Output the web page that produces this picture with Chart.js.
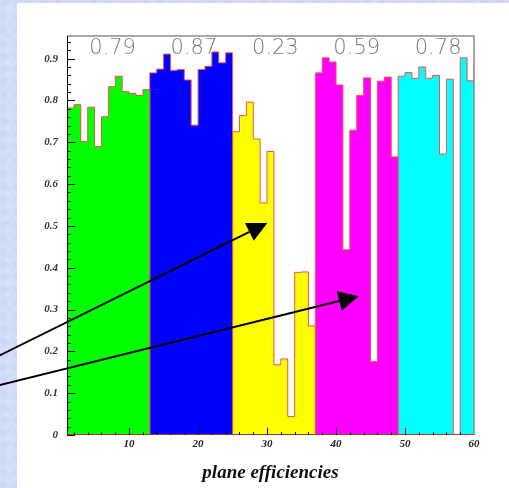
<!DOCTYPE html>
<html>
<head>
<meta charset="utf-8">
<script src="https://cdn.jsdelivr.net/npm/chart.js@4.4.1/dist/chart.umd.min.js"></script>
<style>
html,body{margin:0;padding:0;width:509px;height:488px;overflow:hidden;}
body{background:#d2def7;
 background-image:
  radial-gradient(circle at 30% 30%, rgba(196,210,244,0.7) 0, transparent 6px),
  radial-gradient(circle at 70% 70%, rgba(222,230,250,0.7) 0, transparent 5px),
  radial-gradient(circle at 50% 10%, rgba(205,205,245,0.5) 0, transparent 4px);
 background-size:13px 13px, 11px 11px, 17px 17px;}
#panel{position:absolute;left:17px;top:3px;width:492px;height:485px;background:#ffffff;}
#wrap{position:absolute;left:0;top:0;width:509px;height:488px;}
</style>
</head>
<body>
<div id="panel"></div>
<div id="wrap"><canvas id="c" width="509" height="488"></canvas></div>
<script>
// ---- data ----
const planeEff = [
  0.782, 0.790, 0.702, 0.784, 0.690, 0.761, 0.833, 0.858, 0.821, 0.817, 0.812, 0.826,
  0.866, 0.875, 0.911, 0.872, 0.874, 0.849, 0.741, 0.874, 0.882, 0.916, 0.890, 0.914,
  0.725, 0.764, 0.796, 0.708, 0.555, 0.678, 0.168, 0.182, 0.044, 0.389, 0.390, 0.261,
  0.866, 0.902, 0.892, 0.837, 0.443, 0.729, 0.812, 0.854, 0.176, 0.846, 0.856, 0.665,
  0.858, 0.867, 0.853, 0.880, 0.853, 0.860, 0.672, 0.851, 0.000, 0.902, 0.847, 0.884
];
const groupFirstBin = [1, 13, 25, 37, 49];
const groupBinCount = [12, 12, 12, 12, 12];
const groupLabels = ['0.79', '0.87', '0.23', '0.59', '0.78'];
const yTickValues = [0, 0.1, 0.2, 0.3, 0.4, 0.5, 0.6, 0.7, 0.8, 0.9];
const xTickValues = [10, 20, 30, 40, 50, 60];
const arrowFrom = [[-8.8, 0.190], [-8.8, 0.119]];
const arrowTo = [[30.04, 0.507], [43.28, 0.332]];

// ---- styles ----
const groupColors = ['#00ff00', '#0000ff', '#ffff00', '#ff00ff', '#00ffff'];
const outlineColor = '#f25050';

const datasets = groupFirstBin.map((start, g) => {
  const first = groupFirstBin.slice(0, g).reduce((a, b, i) => a + groupBinCount[i], 0);
  const vals = planeEff.slice(first, first + groupBinCount[g]);
  const pts = [{x: start, y: 0}];
  vals.forEach((v, k) => pts.push({x: start + k, y: v}));
  pts.push({x: start + vals.length, y: 0});
  return {
    data: pts,
    stepped: 'before',
    fill: 'origin',
    backgroundColor: groupColors[g],
    borderColor: outlineColor,
    borderWidth: 1,
    pointRadius: 0,
    pointHoverRadius: 0,
    tension: 0
  };
});

const decor = {
  id: 'decor',
  afterDatasetsDraw(chart) {
    const ctx = chart.ctx, a = chart.chartArea;
    const xs = chart.scales.x, ys = chart.scales.y;
    ctx.save();
    // frame
    ctx.strokeStyle = '#8a8a8a';
    ctx.lineWidth = 1.5;
    ctx.beginPath();
    ctx.moveTo(a.left, a.top); ctx.lineTo(a.right, a.top); ctx.lineTo(a.right, a.bottom);
    ctx.stroke();
    // axes
    ctx.strokeStyle = '#000';
    ctx.lineWidth = 1;
    ctx.beginPath();
    ctx.moveTo(a.left + 0.5, a.top); ctx.lineTo(a.left + 0.5, a.bottom);
    ctx.stroke();
    ctx.strokeStyle = '#a0402a';
    ctx.beginPath();
    ctx.moveTo(a.left, a.bottom - 0.5); ctx.lineTo(a.right, a.bottom - 0.5);
    ctx.stroke();
    // inner ticks
    ctx.strokeStyle = '#000';
    ctx.beginPath();
    for (let i = 0; i <= 47; i++) {
      const v = i * 0.02;
      const py = Math.round(ys.getPixelForValue(v)) + 0.5;
      const len = (i % 5 === 0) ? 8 : 4;
      ctx.moveTo(a.left, py); ctx.lineTo(a.left + len, py);
    }
    for (let v = 2; v < 60; v += 2) {
      const px = Math.round(xs.getPixelForValue(v)) + 0.5;
      const len = (v % 10 === 0) ? 7 : 3;
      ctx.moveTo(px, a.bottom); ctx.lineTo(px, a.bottom - len);
    }
    ctx.stroke();
    // group labels
    ctx.fillStyle = '#7a7a7a';
    ctx.font = '300 21px "DejaVu Sans"';
    ctx.textAlign = 'center';
    ctx.textBaseline = 'alphabetic';
    groupLabels.forEach((t, g) => {
      const xv = groupFirstBin[g] + 6.6 - 0.2 * g;
      ctx.fillText(t, xs.getPixelForValue(xv), a.top + 17.5);
    });
    // arrows
    ctx.strokeStyle = '#000';
    ctx.fillStyle = '#000';
    ctx.lineWidth = 2;
    arrowFrom.forEach((f, i) => {
      const x0 = xs.getPixelForValue(f[0]), y0 = ys.getPixelForValue(f[1]);
      const x1 = xs.getPixelForValue(arrowTo[i][0]), y1 = ys.getPixelForValue(arrowTo[i][1]);
      const dx = x1 - x0, dy = y1 - y0, L = Math.hypot(dx, dy);
      const ux = dx / L, uy = dy / L;
      const hl = 20, hw = 10;
      const bx = x1 - ux * hl, by = y1 - uy * hl;
      ctx.beginPath();
      ctx.moveTo(x0, y0); ctx.lineTo(bx, by);
      ctx.stroke();
      ctx.beginPath();
      ctx.moveTo(x1, y1);
      ctx.lineTo(bx - uy * hw, by + ux * hw);
      ctx.lineTo(bx + uy * hw, by - ux * hw);
      ctx.closePath();
      ctx.fill();
    });
    ctx.restore();
  }
};

new Chart(document.getElementById('c'), {
  type: 'line',
  data: { datasets },
  options: {
    responsive: false,
    animation: false,
    devicePixelRatio: 1,
    events: [],
    layout: { padding: { top: 36, right: 35, left: 0, bottom: 0 } },
    plugins: { legend: { display: false }, tooltip: { enabled: false } },
    scales: {
      x: {
        type: 'linear', min: 1, max: 60,
        grid: { display: false, drawTicks: false }, border: { display: false },
        afterBuildTicks: s => { s.ticks = xTickValues.map(v => ({ value: v })); },
        afterFit: s => { s.height = 53; },
        ticks: {
          autoSkip: false, maxRotation: 0, padding: 3, color: '#222',
          font: { family: '"Liberation Serif"', size: 11, style: 'italic', weight: 'bold' },
          callback: v => String(v)
        },
        title: {
          display: true, text: 'plane efficiencies', color: '#111',
          font: { family: '"Liberation Serif"', size: 19, style: 'italic', weight: 'bold' },
          padding: { top: 4, bottom: 4 }
        }
      },
      y: {
        min: 0, max: 0.9542,
        grid: { display: false, drawTicks: false }, border: { display: false },
        afterBuildTicks: s => { s.ticks = yTickValues.map(v => ({ value: v })); },
        afterFit: s => { s.width = 67; },
        ticks: {
          padding: 9, color: '#333',
          font: { family: '"Liberation Serif"', size: 11, style: 'italic', weight: 'bold' },
          callback: v => (v === 0 ? '0' : v.toFixed(1))
        }
      }
    }
  },
  plugins: [decor]
});
</script>
</body>
</html>
